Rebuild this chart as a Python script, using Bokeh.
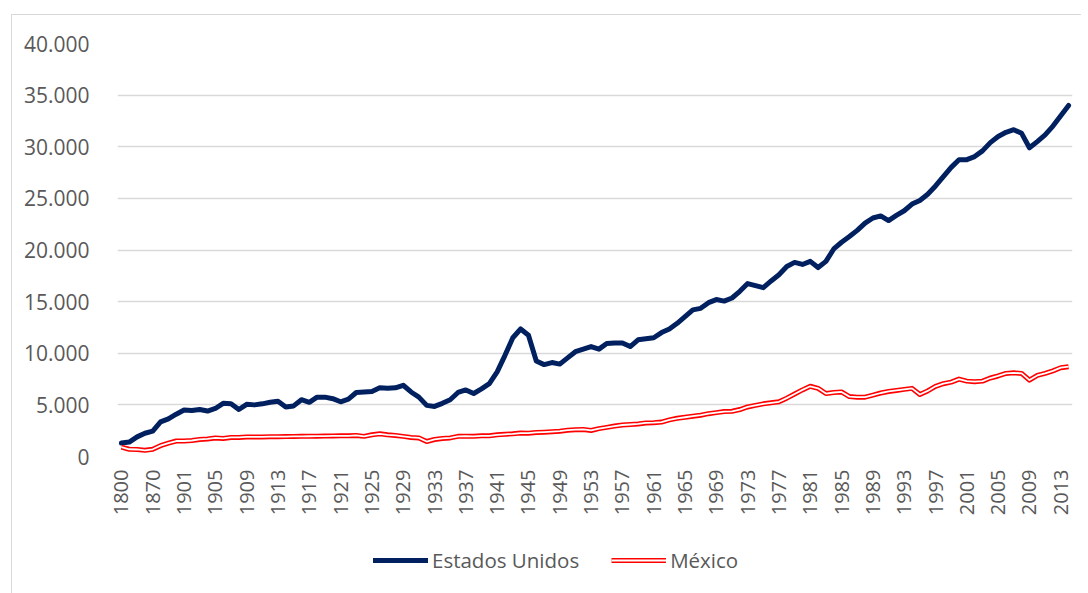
import math
from bokeh.plotting import figure
from bokeh.layouts import column
from bokeh.models import Range1d, FixedTicker, Legend, LegendItem
from bokeh.embed import file_html
from bokeh.resources import INLINE

years = ["1800", "1820", "1850", "1860", "1870", "1880", "1890", "1900"] + [str(y) for y in range(1901, 2015)]

usa = [1300, 1400, 1900, 2250, 2450, 3350, 3650, 4100,
       4500, 4450, 4550, 4400, 4650, 5150, 5100, 4550, 5050, 5000,
       5100, 5250, 5350, 4800, 4900, 5500, 5250, 5750, 5750, 5600,
       5300, 5550, 6200, 6250, 6300, 6650, 6600, 6650, 6900, 6250,
       5750, 4950, 4850, 5150, 5500, 6200, 6450, 6100, 6550, 7050,
       8200, 9800, 11500, 12350, 11750, 9250, 8900, 9100, 8950, 9550,
       10150, 10400, 10650, 10400, 10950, 11000, 11000, 10650, 11300, 11400,
       11500, 12000, 12350, 12900, 13550, 14200, 14350, 14900, 15200, 15050,
       15350, 16000, 16750, 16550, 16350, 17000, 17600, 18400, 18800, 18600,
       18900, 18300, 18900, 20100, 20750, 21300, 21900, 22600, 23100, 23300,
       22850, 23350, 23800, 24450, 24800, 25400, 26200, 27100, 28000, 28750,
       28750, 29050, 29600, 30400, 31000, 31400, 31650, 31300, 29900, 30500,
       31150, 32000, 33000, 34000]

mexico = [900, 700, 680, 600, 700, 1050, 1300, 1500,
          1500, 1550, 1650, 1700, 1800, 1750, 1850, 1850, 1900, 1900,
          1900, 1920, 1920, 1930, 1940, 1950, 1960, 1970, 1980, 1990,
          2000, 2000, 2040, 1950, 2100, 2200, 2100, 2040, 1950, 1850,
          1800, 1450, 1650, 1750, 1800, 1950, 1970, 1950, 2000, 2000,
          2100, 2150, 2200, 2270, 2260, 2330, 2360, 2400, 2450, 2550,
          2600, 2620, 2520, 2700, 2820, 2950, 3050, 3100, 3150, 3250,
          3280, 3330, 3550, 3700, 3800, 3900, 4000, 4150, 4250, 4350,
          4380, 4550, 4800, 4950, 5100, 5200, 5300, 5650, 6050, 6450,
          6800, 6600, 6100, 6200, 6250, 5800, 5750, 5750, 5950, 6150,
          6300, 6400, 6500, 6600, 6000, 6350, 6800, 7050, 7200, 7500,
          7300, 7250, 7300, 7600, 7800, 8050, 8100, 8050, 7400, 7850,
          8050, 8300, 8600, 8700]

y_ticks = [0, 5000, 10000, 15000, 20000, 25000, 30000, 35000, 40000]
y_tick_labels = ["0", "5.000", "10.000", "15.000", "20.000", "25.000", "30.000", "35.000", "40.000"]

series_names = ["Estados Unidos", "México"]

FONT = "Open Sans"
TXT = "#595959"
GRID = "#d9d9d9"
US_COLOR = "#002060"
MX_COLOR = "#ff0000"

idx = list(range(len(years)))

p = figure(width=1069, height=505, output_backend="svg", toolbar_location=None,
           x_range=Range1d(-0.5, len(years) - 0.5), y_range=Range1d(0, 40000),
           min_border_left=105, min_border_right=9, min_border_top=28, min_border_bottom=64)
p.outline_line_color = None
p.background_fill_color = "white"
p.border_fill_color = "white"

# axes
p.xaxis.ticker = FixedTicker(ticks=idx[::4])
p.xaxis.major_label_overrides = {i: years[i] for i in idx[::4]}
p.xaxis.major_label_orientation = math.pi / 2
p.xaxis.axis_line_color = None
p.xaxis.major_tick_line_color = None
p.xaxis.minor_tick_line_color = None
p.xaxis.major_tick_out = 0
p.xaxis.major_tick_in = 0
p.xaxis.major_label_standoff = 13
p.xaxis.major_label_text_font = FONT
p.xaxis.major_label_text_font_size = "20px"
p.xaxis.major_label_text_color = TXT

p.yaxis.ticker = FixedTicker(ticks=y_ticks)
p.yaxis.major_label_overrides = {t: l for t, l in zip(y_ticks, y_tick_labels)}
p.yaxis.axis_line_color = None
p.yaxis.major_tick_line_color = None
p.yaxis.minor_tick_line_color = None
p.yaxis.major_label_standoff = 22
p.yaxis.major_label_text_font = FONT
p.yaxis.major_label_text_font_size = "21px"
p.yaxis.major_label_text_color = TXT

p.xgrid.grid_line_color = None
p.ygrid.grid_line_color = GRID
p.ygrid.grid_line_width = 1.5

p.line(idx, usa, line_color=US_COLOR, line_width=5, line_join="round", line_cap="round")
p.line(idx, mexico, line_color=MX_COLOR, line_width=5, line_join="round")
p.line(idx, mexico, line_color="white", line_width=1.8, line_join="round")

# legend strip below the chart (its renderers hold off-screen points only)
p2 = figure(width=1069, height=73, output_backend="svg", toolbar_location=None,
            x_range=Range1d(0, 1), y_range=Range1d(0, 1),
            x_axis_type=None, y_axis_type=None,
            min_border_left=0, min_border_right=0, min_border_top=0, min_border_bottom=0)
p2.outline_line_color = None
p2.xgrid.grid_line_color = None
p2.ygrid.grid_line_color = None
off = [-10, -9]
l_us = p2.line(off, off, line_color=US_COLOR, line_width=5, line_cap="round")
l_mx1 = p2.line(off, off, line_color=MX_COLOR, line_width=5)
l_mx2 = p2.line(off, off, line_color="white", line_width=1.8)

legend = Legend(items=[LegendItem(label=series_names[0], renderers=[l_us]),
                       LegendItem(label=series_names[1], renderers=[l_mx1, l_mx2])],
                orientation="horizontal", location=(256, 19),
                glyph_width=55, glyph_height=20, label_standoff=4, spacing=32,
                padding=0, margin=0, border_line_color=None, background_fill_alpha=0,
                label_text_font=FONT, label_text_font_size="20.5px", label_text_color=TXT)
p2.add_layout(legend, "center")

layout = column(p, p2, spacing=0)
layout.styles = {"margin-left": "11px", "margin-top": "14px",
                 "border-left": "1px solid #d9d9d9", "border-top": "1px solid #d9d9d9"}

open("out.html", "w").write(file_html(layout, INLINE))
